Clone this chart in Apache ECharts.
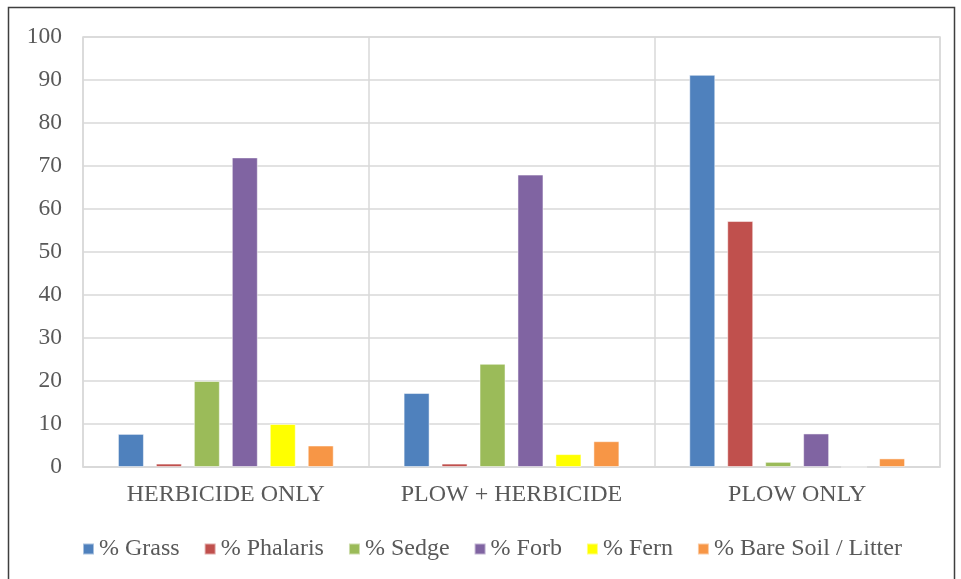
<!DOCTYPE html>
<html>
<head>
<meta charset="utf-8">
<script src="https://cdn.jsdelivr.net/npm/echarts@6/dist/echarts.min.js"></script>
<style>
  html, body { margin: 0; padding: 0; background: #fff; }
  #graph { width: 961px; height: 579px; }
</style>
</head>
<body>
<div id="graph"></div>
<script>
const categories = ['HERBICIDE ONLY', 'PLOW + HERBICIDE', 'PLOW ONLY'];
const grass = [7.7, 17.2, 91.2];
const phalaris = [0.8, 0.8, 57.2];
const sedge = [20, 24, 1.2];
const forb = [72, 68, 7.8];
const fern = [10, 3, 0];
const bareSoil = [5, 6, 2];

const seriesDefs = [
  ['% Grass', grass, '#4f81bd'],
  ['% Phalaris', phalaris, '#c0504d'],
  ['% Sedge', sedge, '#9bbb59'],
  ['% Forb', forb, '#8064a2'],
  ['% Fern', fern, '#ffff00'],
  ['% Bare Soil / Litter', bareSoil, '#f79646']
];

const font = 'Liberation Serif';
const myChart = echarts.init(document.getElementById('graph'));
myChart.setOption({
  animation: false,
  textStyle: { fontFamily: font },
  graphic: [{
    type: 'rect',
    shape: { x: 8.5, y: 7.5, width: 946, height: 590 },
    style: { fill: 'none', stroke: '#3f3f3f', lineWidth: 1.5 },
    silent: true
  }],
  grid: {
    left: 83, right: 21, top: 37, bottom: 112,
    show: true, borderColor: '#d9d9d9', borderWidth: 1.5
  },
  legend: {
    top: 532,
    left: 77,
    itemWidth: 11,
    itemHeight: 11,
    itemGap: 24,
    icon: 'rect',
    textStyle: { fontFamily: font, fontSize: 24, color: '#595959' },
    data: seriesDefs.map(s => s[0])
  },
  xAxis: {
    type: 'category',
    data: categories,
    axisLine: { lineStyle: { color: '#d9d9d9', width: 1.5 } },
    axisTick: { show: false },
    splitLine: { show: true, interval: 0, lineStyle: { color: '#d9d9d9', width: 1.5 } },
    axisLabel: { interval: 0, fontFamily: font, fontSize: 24, color: '#595959', margin: 16 }
  },
  yAxis: {
    type: 'value',
    min: 0, max: 100, interval: 10,
    axisLine: { show: false },
    axisTick: { show: false },
    splitLine: { lineStyle: { color: '#d9d9d9', width: 1.5 } },
    axisLabel: { fontFamily: font, fontSize: 23.5, color: '#595959', margin: 21 }
  },
  series: seriesDefs.map(([name, data, color]) => ({
    name: name,
    type: 'bar',
    data: data,
    barWidth: 26,
    barGap: '46%',
    itemStyle: { color: color, borderColor: 'rgba(255,255,255,0.5)', borderWidth: 1 }
  }))
});
</script>
</body>
</html>
